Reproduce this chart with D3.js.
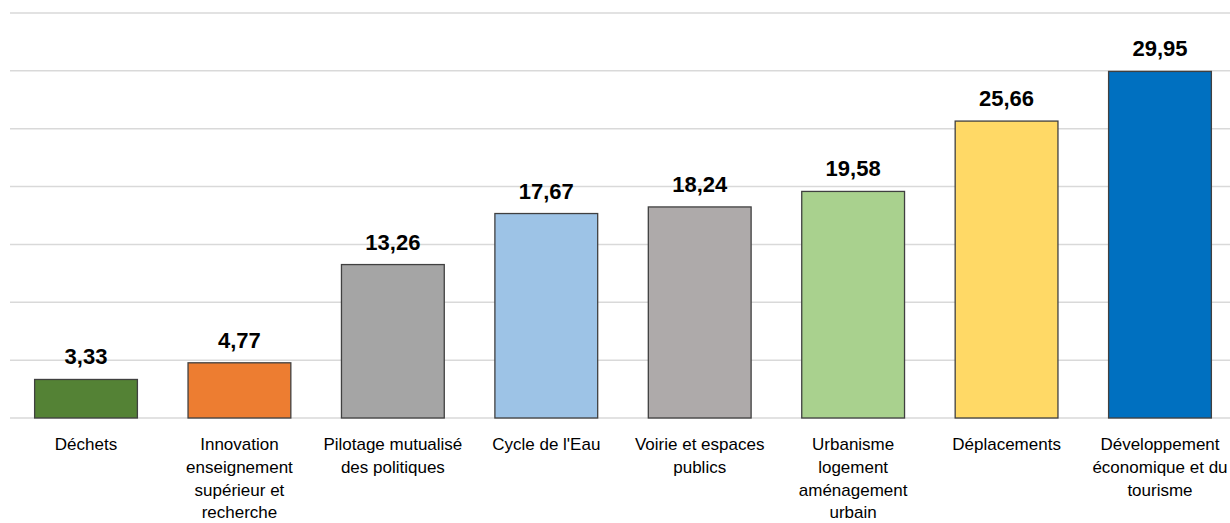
<!DOCTYPE html>
<html>
<head>
<meta charset="utf-8">
<script src="https://cdn.jsdelivr.net/npm/d3@7"></script>
<style>
  body { margin: 0; background: #fff; }
  svg { display: block; font-family: "Liberation Sans", Arial, sans-serif; }
</style>
</head>
<body>
<div id="chart-area"></div>
<script>
// Data
var categories = ["Déchets", "Innovation enseignement supérieur et recherche", "Pilotage mutualisé des politiques",
    "Cycle de l'Eau", "Voirie et espaces publics", "Urbanisme logement aménagement urbain",
    "Déplacements", "Développement économique et du tourisme"]
var labelLines = [
    ["Déchets"],
    ["Innovation", "enseignement", "supérieur et", "recherche"],
    ["Pilotage mutualisé", "des politiques"],
    ["Cycle de l'Eau"],
    ["Voirie et espaces", "publics"],
    ["Urbanisme", "logement", "aménagement", "urbain"],
    ["Déplacements"],
    ["Développement", "économique et du", "tourisme"]
]
var values = [3.33, 4.77, 13.26, 17.67, 18.24, 19.58, 25.66, 29.95]
var barColors = ["#548235", "#ED7D31", "#A5A5A5", "#9DC3E6", "#AEAAAA", "#A9D18E", "#FFD966", "#0070C0"]
var yTicks = [0, 5, 10, 15, 20, 25, 30, 35]

var width = 1230, height = 523

var svg = d3.select("#chart-area")
    .append("svg")
        .attr("width", width)
        .attr("height", height)

// Scales
var x = d3.scaleBand()
    .domain(categories)
    .range([9.3, 1236.7])
    .paddingInner(0.33)
    .paddingOuter(0.165)

var y = d3.scaleLinear()
    .domain([0, 35])
    .range([418, 13])

// Gridlines
svg.append("g")
    .attr("class", "grid")
    .selectAll("line")
    .data(yTicks)
    .enter().append("line")
        .attr("x1", 10)
        .attr("x2", 1236)
        .attr("y1", d => y(d))
        .attr("y2", d => y(d))
        .attr("stroke", "#d9d9d9")
        .attr("stroke-width", 1.5)

// Bars
svg.selectAll("rect.bar")
    .data(values)
    .enter().append("rect")
        .attr("class", "bar")
        .attr("x", (d, i) => x(categories[i]))
        .attr("y", d => y(d))
        .attr("width", x.bandwidth())
        .attr("height", d => y(0) - y(d))
        .attr("fill", (d, i) => barColors[i])
        .attr("stroke", "#404040")
        .attr("stroke-width", 1.3)

// Value labels
svg.selectAll("text.value")
    .data(values)
    .enter().append("text")
        .attr("class", "value")
        .attr("x", (d, i) => x(categories[i]) + x.bandwidth() / 2)
        .attr("y", d => y(d) - 15)
        .attr("text-anchor", "middle")
        .attr("font-size", 22)
        .attr("font-weight", "bold")
        .attr("fill", "#000")
        .text(d => d.toFixed(2).replace(".", ","))

// Category labels
var catLabels = svg.selectAll("text.cat")
    .data(labelLines)
    .enter().append("text")
        .attr("class", "cat")
        .attr("text-anchor", "middle")
        .attr("font-size", 17)
        .attr("fill", "#000")

catLabels.selectAll("tspan")
    .data((d, i) => d.map(line => ({line: line, i: i})))
    .enter().append("tspan")
        .attr("x", d => x(categories[d.i]) + x.bandwidth() / 2)
        .attr("y", (d, j) => 450 + j * 22.8)
        .text(d => d.line)
</script>
</body>
</html>
